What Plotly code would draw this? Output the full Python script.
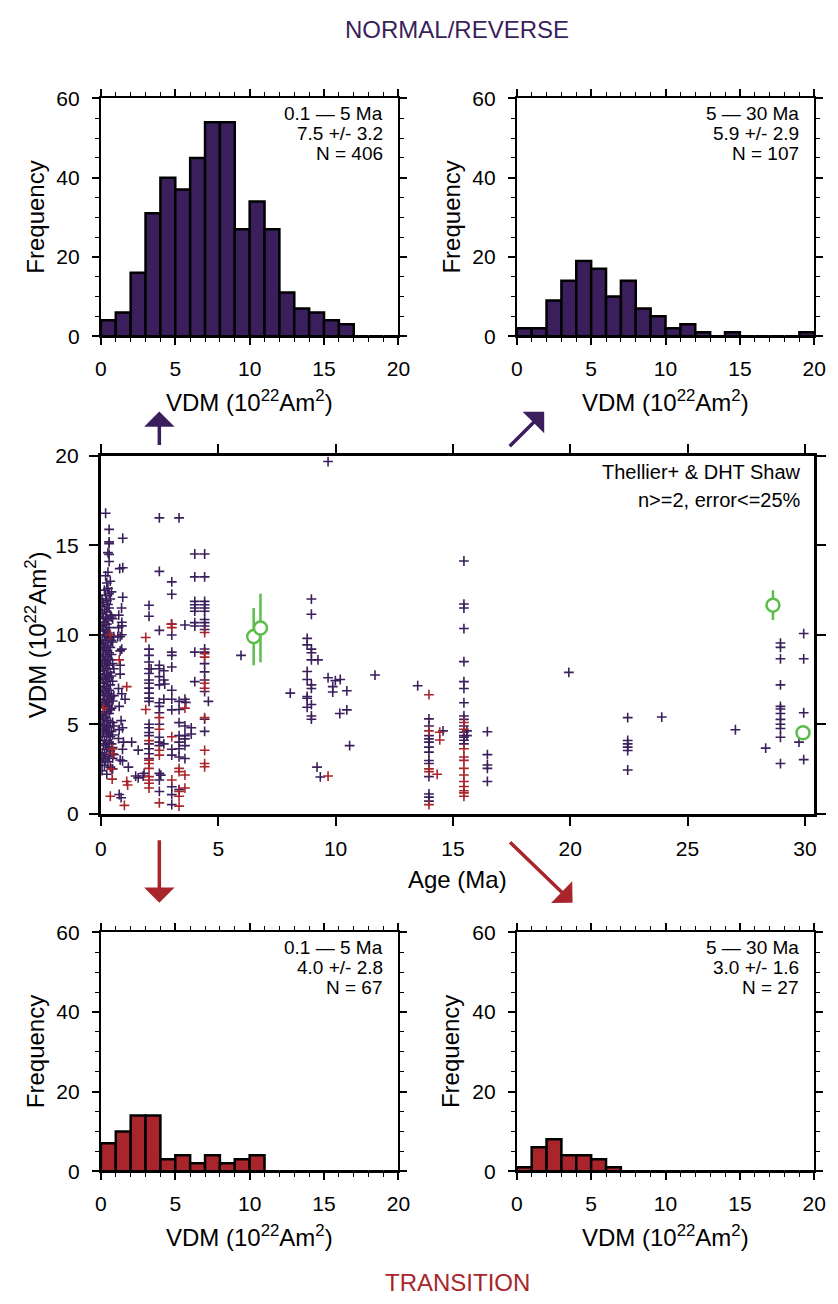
import plotly.graph_objects as go

PURPLE = "#3b1f5c"
RED = "#a8252c"
GREEN = "#5dbd4c"
FONT = "Liberation Sans, Arial, Helvetica, sans-serif"

# ---------------- data ----------------
vdm_bin_centers = [0.5, 1.5, 2.5, 3.5, 4.5, 5.5, 6.5, 7.5, 8.5, 9.5,
                   10.5, 11.5, 12.5, 13.5, 14.5, 15.5, 16.5, 17.5, 18.5, 19.5]
nr_young_counts = [4, 6, 16, 31, 40, 37, 45, 54, 54, 27, 34, 27, 11, 7, 6, 4, 3, 0, 0, 0]
nr_old_counts = [2, 2, 9, 14, 19, 17, 10, 14, 7, 5, 2, 3, 1, 0, 1, 0, 0, 0, 0, 1]
tr_young_counts = [7, 10, 14, 14, 3, 4, 2, 4, 2, 3, 4, 0, 0, 0, 0, 0, 0, 0, 0, 0]
tr_old_counts = [1, 6, 8, 4, 4, 3, 1, 0, 0, 0, 0, 0, 0, 0, 0, 0, 0, 0, 0, 0]

hist_labels_nr_young = ["0.1 \u2014 5 Ma", "7.5 +/- 3.2", "N = 406"]
hist_labels_nr_old = ["5 \u2014 30 Ma", "5.9 +/- 2.9", "N = 107"]
hist_labels_tr_young = ["0.1 \u2014 5 Ma", "4.0 +/- 2.8", "N = 67"]
hist_labels_tr_old = ["5 \u2014 30 Ma", "3.0 +/- 1.6", "N = 27"]

# normal/reverse polarity samples: (age Ma, VDM 1e22 Am2)
nr_points = [
    (0.05, 12.0), (0.05, 11.6), (0.05, 11.2), (0.05, 10.5), (0.05, 9.7), (0.05, 9.2), (0.05, 8.6),
    (0.05, 8.2), (0.05, 7.6), (0.05, 6.9), (0.05, 6.2), (0.05, 5.5), (0.05, 5.0), (0.05, 4.3),
    (0.05, 3.4), (0.05, 2.9), (0.05, 2.4),
    (0.10, 11.8), (0.10, 10.9), (0.10, 10.2), (0.10, 9.5), (0.10, 8.9), (0.10, 8.0), (0.10, 7.3),
    (0.10, 6.6), (0.10, 6.0), (0.10, 5.3), (0.10, 4.6), (0.10, 3.8), (0.10, 3.1),
    (0.15, 12.5), (0.15, 11.4), (0.15, 10.7), (0.15, 10.0), (0.15, 9.3), (0.15, 8.5), (0.15, 7.8),
    (0.15, 7.1), (0.15, 6.4), (0.15, 5.7), (0.15, 4.9), (0.15, 4.1), (0.15, 3.3), (0.15, 2.7),
    (0.20, 16.8), (0.20, 13.3), (0.20, 12.2), (0.20, 11.0), (0.20, 10.3), (0.20, 9.6), (0.20, 8.8),
    (0.20, 8.3), (0.20, 7.5), (0.20, 6.8), (0.20, 6.1), (0.20, 5.4), (0.20, 4.7), (0.20, 3.9), (0.20, 3.0),
    (0.25, 12.9), (0.25, 11.9), (0.25, 11.3), (0.25, 10.6), (0.25, 9.9), (0.25, 9.1), (0.25, 8.4),
    (0.25, 7.7), (0.25, 7.0), (0.25, 6.3), (0.25, 5.6), (0.25, 4.9), (0.25, 4.4), (0.25, 3.6), (0.25, 2.2),
    (0.30, 14.6), (0.30, 13.5), (0.30, 12.6), (0.30, 11.7), (0.30, 10.8), (0.30, 10.1), (0.30, 9.4),
    (0.30, 8.7), (0.30, 8.1), (0.30, 7.4), (0.30, 6.7), (0.30, 6.0), (0.30, 5.2), (0.30, 4.5),
    (0.30, 3.7), (0.30, 2.9),
    (0.35, 15.9), (0.35, 15.2), (0.35, 15.1), (0.35, 14.5), (0.35, 14.1), (0.35, 12.3), (0.35, 11.5),
    (0.35, 10.4), (0.35, 9.8), (0.35, 9.0), (0.35, 8.3), (0.35, 7.6), (0.35, 6.9), (0.35, 6.2),
    (0.35, 5.6), (0.35, 4.8), (0.35, 4.0), (0.35, 3.2),
    (0.40, 13.0), (0.40, 12.0), (0.40, 11.1), (0.40, 10.0), (0.40, 9.3), (0.40, 8.6), (0.40, 7.9),
    (0.40, 7.2), (0.40, 6.5), (0.40, 5.8), (0.40, 5.1), (0.40, 4.3), (0.40, 3.5), (0.40, 2.6),
    (0.45, 12.4), (0.45, 11.0), (0.45, 9.7), (0.45, 8.9), (0.45, 7.7), (0.45, 6.6), (0.45, 5.9),
    (0.45, 4.6), (0.45, 3.9),
    (0.50, 10.9), (0.50, 9.6), (0.50, 8.4), (0.50, 7.4), (0.50, 6.3), (0.50, 5.1), (0.50, 4.4),
    (0.50, 3.7), (0.50, 3.1), (0.50, 2.5),
    (0.55, 9.9), (0.55, 8.1), (0.55, 6.6), (0.55, 4.9), (0.55, 3.3),
    (0.80, 13.7), (0.93, 13.75), (0.93, 15.4), (0.93, 12.1), (0.88, 11.5), (0.76, 11.1), (0.89, 10.7),
    (0.89, 10.5), (0.75, 10.4), (0.89, 10.0), (0.82, 9.9), (0.72, 9.9), (0.89, 9.2), (0.82, 9.1),
    (0.82, 8.3), (0.82, 7.8), (0.75, 7.0), (0.89, 6.7), (1.03, 6.4), (0.78, 6.0), (0.86, 5.2),
    (0.92, 4.8), (0.78, 4.7), (0.75, 4.2), (0.96, 4.0), (0.92, 3.6), (0.82, 3.0), (0.92, 2.95),
    (0.78, 1.07), (0.86, 0.89),
    (1.31, 4.0), (1.59, 3.55), (1.17, 2.6), (1.48, 2.1), (1.59, 2.0), (1.80, 2.1), (1.84, 2.25),
    (2.05, 11.65), (2.05, 11.04), (2.05, 9.2), (2.05, 8.85), (2.05, 8.48), (2.05, 8.1), (2.14, 8.1),
    (2.05, 7.84), (2.05, 7.47), (2.05, 7.29), (2.05, 7.02), (2.05, 6.74), (2.05, 6.46), (2.05, 6.28),
    (2.05, 5.0), (2.05, 4.8), (2.05, 4.54), (2.05, 4.36), (2.05, 3.9), (2.05, 3.63), (2.05, 3.35),
    (2.05, 3.08),
    (2.49, 16.54), (2.49, 13.55), (2.49, 10.25), (2.49, 8.3), (2.49, 8.1), (2.49, 7.66), (2.49, 7.2),
    (2.49, 6.2), (2.49, 6.0), (2.49, 5.64), (2.49, 5.0), (2.49, 4.27), (2.49, 4.0), (2.49, 3.8),
    (2.49, 2.25), (2.55, 2.15), (2.49, 1.88), (2.49, 1.24),
    (2.68, 7.99), (2.68, 7.47), (2.72, 7.25), (2.68, 6.4), (2.68, 3.9),
    (3.02, 12.96), (3.02, 12.27), (3.02, 10.6), (3.02, 9.99), (3.02, 9.03), (3.02, 8.85), (3.02, 8.2),
    (3.02, 6.9), (3.02, 6.4), (3.02, 5.8), (3.02, 3.6), (3.02, 3.27), (3.02, 1.5), (3.02, 1.06),
    (3.02, 0.5),
    (3.33, 16.54), (3.33, 6.28), (3.33, 5.82), (3.33, 5.09), (3.33, 4.36), (3.33, 4.0), (3.33, 3.63),
    (3.33, 3.17), (3.33, 1.34),
    (3.58, 10.55), (3.58, 6.4), (3.62, 6.22), (3.58, 4.9), (3.58, 4.36), (3.58, 4.18), (3.58, 3.8),
    (3.58, 3.08),
    (3.85, 4.8), (3.85, 4.45),
    (4.00, 14.52), (4.00, 13.24), (4.00, 11.87), (4.00, 11.68), (4.00, 11.5), (4.00, 11.32),
    (4.00, 10.68), (4.00, 10.49), (4.00, 9.03), (4.00, 7.38),
    (4.42, 14.52), (4.42, 13.24), (4.42, 11.87), (4.42, 11.68), (4.42, 11.5), (4.42, 11.32),
    (4.42, 10.86), (4.42, 10.68), (4.42, 10.49), (4.42, 10.3), (4.42, 9.21), (4.42, 9.03),
    (4.42, 8.39), (4.42, 7.93), (4.42, 7.47), (4.42, 6.83), (4.42, 5.28), (4.42, 4.6),
    (4.58, 6.28), (5.97, 8.85),
    (9.68, 19.69), (8.97, 12.0), (8.97, 11.15), (8.79, 9.8), (8.79, 9.44), (8.97, 9.2), (8.97, 9.0),
    (8.97, 8.6), (9.25, 8.6), (8.79, 7.95), (8.79, 7.5), (8.97, 7.2), (8.97, 7.0), (9.68, 7.6),
    (9.99, 7.44), (10.2, 7.5), (9.88, 7.1), (9.88, 6.8), (10.48, 6.87), (11.68, 7.75), (13.5, 7.15),
    (8.07, 6.74), (8.79, 6.55), (8.79, 6.45), (8.97, 6.1), (8.79, 5.95), (8.97, 5.46), (8.97, 5.28),
    (10.18, 5.6), (10.48, 5.8), (10.6, 3.8), (9.21, 2.6), (9.35, 2.05),
    (13.98, 5.3), (13.98, 4.9), (13.98, 4.36), (13.98, 4.18), (13.98, 4.0), (13.98, 3.72),
    (13.98, 3.44), (13.98, 2.97), (13.98, 2.8), (13.98, 2.07), (13.98, 1.1), (13.98, 0.92),
    (13.98, 0.7), (14.58, 4.63),
    (15.47, 14.13), (15.47, 11.72), (15.47, 11.5), (15.47, 10.35), (15.47, 8.5), (15.47, 7.38),
    (15.47, 7.0), (15.47, 6.2), (15.47, 5.46), (15.47, 5.27), (15.47, 4.9), (15.47, 4.55),
    (15.47, 4.36), (15.47, 4.27), (15.47, 4.1), (15.47, 3.9), (15.6, 4.63), (15.6, 4.36),
    (16.47, 4.58), (16.47, 3.3), (16.47, 2.72), (16.47, 2.53), (16.47, 1.8),
    (19.94, 7.9),
    (22.45, 5.37), (22.45, 4.09), (22.45, 3.9), (22.45, 3.72), (22.45, 3.53), (22.45, 2.44),
    (23.9, 5.4), (27.04, 4.69), (28.33, 3.66),
    (28.96, 9.54), (28.96, 9.3), (28.96, 8.66), (28.96, 7.2), (28.96, 6.0), (28.96, 5.85),
    (28.96, 5.6), (28.96, 5.27), (28.96, 5.0), (28.96, 4.76), (28.96, 4.27), (28.96, 2.8),
    (29.95, 10.07), (29.95, 8.66), (29.95, 5.64), (29.95, 3.02), (29.75, 4.0),
]

# transitional samples: (age Ma, VDM)
tr_points = [
    (0.11, 5.9), (0.48, 3.62), (0.50, 3.35), (0.45, 2.5), (0.48, 1.93), (0.40, 0.97), (0.40, 10.0),
    (0.78, 8.6), (1.10, 7.1), (1.10, 1.8), (1.14, 1.6), (1.00, 0.46),
    (1.91, 9.85), (1.91, 5.82), (2.05, 4.08), (2.05, 2.99), (2.05, 2.8), (2.05, 2.53), (2.05, 2.07),
    (2.05, 1.88), (2.05, 1.7), (2.05, 1.43),
    (2.49, 5.37), (2.49, 4.72), (2.49, 3.54), (2.49, 3.27), (2.49, 0.6),
    (3.00, 10.6), (3.02, 10.4), (3.02, 4.3), (3.02, 1.88),
    (3.33, 2.53), (3.33, 2.35), (3.33, 1.24), (3.33, 0.97), (3.33, 0.42),
    (3.58, 5.9), (3.58, 2.16), (3.58, 1.43),
    (4.42, 10.13), (4.42, 8.94), (4.42, 8.75), (4.42, 7.29), (4.42, 7.01), (4.42, 5.37),
    (4.42, 3.54), (4.42, 2.8), (4.42, 2.62),
    (9.68, 2.1),
    (13.98, 6.65), (13.98, 4.63), (13.98, 2.5), (13.98, 2.35), (13.98, 0.5), (14.44, 4.55),
    (14.44, 4.12), (14.33, 2.2),
    (15.47, 5.1), (15.47, 4.72), (15.47, 3.63), (15.47, 3.17), (15.47, 2.98), (15.47, 2.53),
    (15.47, 2.16), (15.47, 1.8), (15.47, 1.52), (15.47, 1.28), (15.47, 1.16), (15.47, 0.97),
]

# reference (green) determinations with error bars
pint_age = [6.51, 6.80, 28.64, 29.92]
pint_vdm = [9.9, 10.38, 11.66, 4.52]
pint_err = [1.6, 1.92, 0.83, 0.3]

# ---------------- layout helpers ----------------
W, H = 838, 1304


def px(x):
    return x / W


def py(y):
    return 1 - y / H


fig = go.Figure()

tick_font = dict(family=FONT, size=21, color="black")


def hist_axes(xname, yname, xdom, ydom):
    xa = dict(domain=[px(xdom[0]), px(xdom[1])], anchor=yname, range=[0, 20],
              tickvals=[0, 5, 10, 15, 20], ticks="outside", ticklen=7, tickwidth=1.5,
              tickcolor="black", showline=True, linewidth=2, linecolor="black",
              mirror="allticks", showgrid=False, zeroline=False, tickfont=tick_font,
              ticklabelstandoff=6,
              minor=dict(dtick=1, tick0=0, ticks="outside", ticklen=4, tickwidth=1,
                         tickcolor="black", showgrid=False))
    ya = dict(domain=[py(ydom[1]), py(ydom[0])], anchor=xname, range=[0, 60],
              tickvals=[0, 20, 40, 60], ticks="outside", ticklen=7, tickwidth=1.5,
              tickcolor="black", showline=True, linewidth=2, linecolor="black",
              mirror="allticks", showgrid=False, zeroline=False, tickfont=tick_font,
              ticklabelstandoff=8,
              minor=dict(dtick=5, tick0=0, ticks="outside", ticklen=4, tickwidth=1,
                         tickcolor="black", showgrid=False))
    return xa, ya


panels = [
    ("x", "y", "xaxis", "yaxis", nr_young_counts, PURPLE, (97, 401), (88, 330), hist_labels_nr_young),
    ("x2", "y2", "xaxis2", "yaxis2", nr_old_counts, PURPLE, (522, 826), (88, 330), hist_labels_nr_old),
    ("x4", "y4", "xaxis4", "yaxis4", tr_young_counts, RED, (97, 401), (937, 1180), hist_labels_tr_young),
    ("x5", "y5", "xaxis5", "yaxis5", tr_old_counts, RED, (522, 826), (937, 1180), hist_labels_tr_old),
]

annotations = []
layout_axes = {}
txt = dict(family=FONT, color="black")

for xr, yr, xk, yk, counts, col, xdom, ydom, labels in panels:
    fig.add_trace(go.Bar(x=vdm_bin_centers, y=counts, width=1, xaxis=xr, yaxis=yr,
                         marker=dict(color=col, line=dict(color="black", width=2.5)),
                         hoverinfo="skip"))
    xa, ya = hist_axes(xr, yr, xdom, ydom)
    layout_axes[xk] = xa
    layout_axes[yk] = ya
    for i, lab in enumerate(labels):
        annotations.append(dict(text=lab, x=px(xdom[1] - 14), y=py(ydom[0] + 15.5 + 20.3 * i),
                                xref="paper", yref="paper", xanchor="right", yanchor="middle",
                                showarrow=False, font=dict(size=19, **txt)))
    annotations.append(dict(text="VDM (10<sup>22</sup>Am<sup>2</sup>)", x=px((xdom[0] + xdom[1]) / 2),
                            y=py(ydom[1] + 66), xref="paper", yref="paper", xanchor="center",
                            yanchor="middle", showarrow=False, font=dict(size=24, **txt)))
    annotations.append(dict(text="Frequency", x=px(xdom[0] - 67), y=py((ydom[0] + ydom[1]) / 2),
                            xref="paper", yref="paper", xanchor="center", yanchor="middle",
                            textangle=-90, showarrow=False, font=dict(size=24, **txt)))

# scatter panel
nr_age = [p[0] for p in nr_points]
nr_vdm = [p[1] for p in nr_points]
tr_age = [p[0] for p in tr_points]
tr_vdm = [p[1] for p in tr_points]

fig.add_trace(go.Scatter(x=nr_age, y=nr_vdm, mode="markers", xaxis="x3", yaxis="y3",
                         marker=dict(symbol="cross-thin", size=7, color=PURPLE,
                                     line=dict(color=PURPLE, width=1.6))))
fig.add_trace(go.Scatter(x=tr_age, y=tr_vdm, mode="markers", xaxis="x3", yaxis="y3",
                         marker=dict(symbol="cross-thin", size=7, color=RED,
                                     line=dict(color=RED, width=1.6))))
fig.add_trace(go.Scatter(x=pint_age, y=pint_vdm, mode="markers", xaxis="x3", yaxis="y3",
                         error_y=dict(type="data", array=pint_err, color=GREEN, thickness=2.5, width=0),
                         marker=dict(symbol="circle", size=13, color="white",
                                     line=dict(color=GREEN, width=2.5))))

layout_axes["xaxis3"] = dict(domain=[px(97), px(826)], anchor="y3", range=[0, 30.4],
                             tickvals=[0, 5, 10, 15, 20, 25, 30], ticks="outside", ticklen=9,
                             tickwidth=1.5, tickcolor="black", showline=True, linewidth=3,
                             linecolor="black", mirror="allticks", showgrid=False, zeroline=False,
                             tickfont=tick_font, ticklabelstandoff=5)
layout_axes["yaxis3"] = dict(domain=[py(816), py(452)], anchor="x3", range=[0, 20],
                             tickvals=[0, 5, 10, 15, 20], ticks="outside", ticklen=9,
                             tickwidth=1.5, tickcolor="black", showline=True, linewidth=3,
                             linecolor="black", mirror="allticks", showgrid=False, zeroline=False,
                             tickfont=tick_font, ticklabelstandoff=6)

annotations += [
    dict(text="Thellier+ & DHT Shaw", x=px(814), y=py(468), xref="paper", yref="paper",
         xanchor="right", yanchor="middle", showarrow=False, font=dict(size=20, **txt)),
    dict(text="n>=2, error<=25%", x=px(814), y=py(497), xref="paper", yref="paper",
         xanchor="right", yanchor="middle", showarrow=False, font=dict(size=20, **txt)),
    dict(text="Age (Ma)", x=px(461.5), y=py(883), xref="paper", yref="paper",
         xanchor="center", yanchor="middle", showarrow=False, font=dict(size=24, **txt)),
    dict(text="VDM (10<sup>22</sup>Am<sup>2</sup>)", x=px(30), y=py(634), xref="paper", yref="paper",
         xanchor="center", yanchor="middle", textangle=-90, showarrow=False, font=dict(size=24, **txt)),
    dict(text="NORMAL/REVERSE", x=px(461), y=py(18), xref="paper", yref="paper",
         xanchor="center", yanchor="middle", showarrow=False, font=dict(size=24, family=FONT, color=PURPLE)),
    dict(text="TRANSITION", x=px(461), y=py(1293), xref="paper", yref="paper",
         xanchor="center", yanchor="middle", showarrow=False, font=dict(size=24, family=FONT, color=RED)),
]

# arrows
arrow_specs = [
    ((156.7, 406.7), (0, 35), PURPLE),
    ((550, 407), (-36, 36), PURPLE),
    ((156.7, 906.7), (0, -64), RED),
    ((579, 906.7), (-64, -62), RED),
]
for (tx, ty), (ax, ay), col in arrow_specs:
    annotations.append(dict(text="", x=px(tx), y=py(ty), xref="paper", yref="paper",
                            ax=ax, ay=ay, axref="pixel", ayref="pixel", showarrow=True,
                            arrowhead=1, arrowsize=1.45, arrowwidth=3.5, arrowcolor=col,
                            standoff=0))

fig.update_layout(width=W, height=H, margin=dict(l=0, r=0, t=0, b=0), autosize=False,
                  paper_bgcolor="white", plot_bgcolor="white", showlegend=False,
                  annotations=annotations, font=dict(family=FONT, color="black"),
                  **layout_axes)

fig.write_html("out.html")
